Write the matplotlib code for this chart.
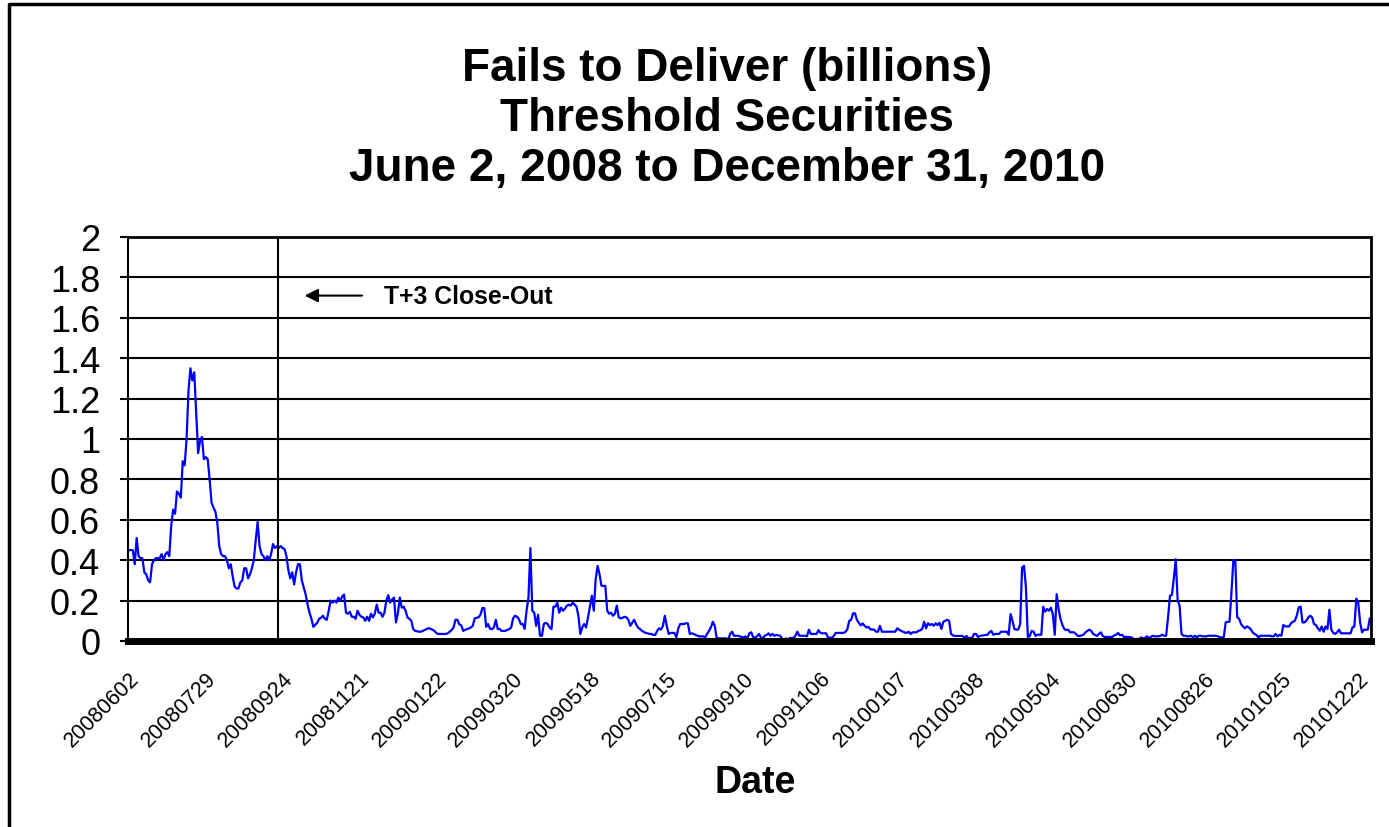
import matplotlib
matplotlib.use("Agg")
import matplotlib.pyplot as plt
from matplotlib.lines import Line2D

plt.rcParams['font.family'] = ['Liberation Sans', 'DejaVu Sans']

# Daily fails to deliver in threshold securities (billions), one value per
# trading day from 2008-06-02 to 2010-12-31
fails = [
    0.45, 0.45, 0.45, 0.38, 0.51, 0.42, 0.41, 0.41, 0.34, 0.33,
    0.30, 0.29, 0.38, 0.40, 0.41, 0.41, 0.41, 0.43, 0.40, 0.43,
    0.44, 0.42, 0.57, 0.65, 0.63, 0.74, 0.73, 0.71, 0.89, 0.87,
    1.00, 1.24, 1.35, 1.29, 1.33, 1.13, 0.93, 0.99, 1.01, 0.90,
    0.91, 0.90, 0.80, 0.685, 0.66, 0.64, 0.586, 0.47, 0.43, 0.42,
    0.42, 0.40, 0.36, 0.38, 0.32, 0.27, 0.26, 0.26, 0.29, 0.30,
    0.36, 0.36, 0.31, 0.33, 0.36, 0.40, 0.50, 0.59, 0.47, 0.43,
    0.42, 0.40, 0.42, 0.40, 0.43, 0.48, 0.46, 0.47, 0.46, 0.47,
    0.46, 0.455, 0.42, 0.35, 0.31, 0.34, 0.28, 0.34, 0.38, 0.38,
    0.30, 0.265, 0.23, 0.18, 0.14, 0.11, 0.07, 0.08, 0.09, 0.11,
    0.115, 0.125, 0.11, 0.105, 0.15, 0.20, 0.19, 0.20, 0.19, 0.215,
    0.20, 0.22, 0.23, 0.14, 0.135, 0.145, 0.12, 0.12, 0.11, 0.15,
    0.13, 0.12, 0.117, 0.10, 0.12, 0.10, 0.135, 0.117, 0.135, 0.18,
    0.14, 0.14, 0.12, 0.14, 0.20, 0.227, 0.19, 0.205, 0.215, 0.092,
    0.135, 0.215, 0.165, 0.17, 0.15, 0.117, 0.11, 0.10, 0.059, 0.05,
    0.048, 0.046, 0.046, 0.05, 0.055, 0.059, 0.064, 0.06, 0.056, 0.05,
    0.04, 0.035, 0.035, 0.035, 0.035, 0.035, 0.038, 0.046, 0.054, 0.067,
    0.105, 0.105, 0.082, 0.078, 0.05, 0.055, 0.059, 0.062, 0.067, 0.075,
    0.112, 0.115, 0.117, 0.13, 0.163, 0.163, 0.07, 0.084, 0.06, 0.059,
    0.067, 0.105, 0.059, 0.06, 0.05, 0.05, 0.05, 0.055, 0.059, 0.067,
    0.112, 0.125, 0.12, 0.109, 0.084, 0.084, 0.06, 0.15, 0.215, 0.46,
    0.15, 0.14, 0.075, 0.13, 0.026, 0.025, 0.084, 0.09, 0.084, 0.067,
    0.059, 0.17, 0.17, 0.19, 0.14, 0.165, 0.15, 0.16, 0.175, 0.18,
    0.175, 0.19, 0.18, 0.17, 0.125, 0.035, 0.067, 0.084, 0.067, 0.117,
    0.17, 0.224, 0.15, 0.306, 0.372, 0.33, 0.273, 0.273, 0.273, 0.15,
    0.135, 0.14, 0.125, 0.135, 0.175, 0.117, 0.112, 0.115, 0.12, 0.117,
    0.105, 0.075, 0.09, 0.105, 0.084, 0.067, 0.06, 0.051, 0.045, 0.04,
    0.038, 0.035, 0.035, 0.03, 0.03, 0.05, 0.063, 0.056, 0.075, 0.125,
    0.075, 0.035, 0.04, 0.04, 0.04, 0.018, 0.063, 0.084, 0.084, 0.084,
    0.088, 0.087, 0.035, 0.038, 0.035, 0.03, 0.026, 0.023, 0.023, 0.023,
    0.018, 0.035, 0.05, 0.068, 0.095, 0.075, 0.013, 0.013, 0.013, 0.013,
    0.013, 0.013, 0.005, 0.035, 0.046, 0.026, 0.026, 0.026, 0.023, 0.02,
    0.018, 0.023, 0.013, 0.038, 0.043, 0.018, 0.018, 0.023, 0.035, 0.018,
    0.013, 0.026, 0.03, 0.038, 0.026, 0.035, 0.026, 0.03, 0.028, 0.026,
    0.013, 0.007, 0.013, 0.005, 0.015, 0.015, 0.015, 0.026, 0.046, 0.026,
    0.026, 0.026, 0.026, 0.023, 0.056, 0.035, 0.035, 0.035, 0.035, 0.054,
    0.04, 0.038, 0.038, 0.038, 0.016, 0.016, 0.016, 0.026, 0.04, 0.04,
    0.04, 0.04, 0.04, 0.045, 0.058, 0.10, 0.105, 0.137, 0.137, 0.105,
    0.09, 0.077, 0.087, 0.075, 0.067, 0.07, 0.058, 0.057, 0.056, 0.046,
    0.046, 0.075, 0.046, 0.046, 0.046, 0.046, 0.046, 0.046, 0.046, 0.046,
    0.063, 0.056, 0.05, 0.046, 0.042, 0.04, 0.046, 0.035, 0.043, 0.043,
    0.043, 0.05, 0.053, 0.06, 0.095, 0.063, 0.088, 0.079, 0.084, 0.075,
    0.088, 0.079, 0.09, 0.06, 0.095, 0.10, 0.105, 0.10, 0.035, 0.028,
    0.025, 0.025, 0.025, 0.025, 0.025, 0.015, 0.025, 0.015, 0.015, 0.015,
    0.035, 0.035, 0.02, 0.025, 0.027, 0.028, 0.03, 0.031, 0.043, 0.05,
    0.031, 0.035, 0.035, 0.035, 0.046, 0.046, 0.046, 0.046, 0.031, 0.133,
    0.10, 0.059, 0.056, 0.057, 0.084, 0.364, 0.372, 0.265, 0.02, 0.025,
    0.05, 0.046, 0.025, 0.031, 0.031, 0.031, 0.17, 0.145, 0.158, 0.15,
    0.165, 0.133, 0.031, 0.232, 0.158, 0.109, 0.079, 0.059, 0.054, 0.056,
    0.043, 0.043, 0.043, 0.035, 0.025, 0.025, 0.028, 0.031, 0.043, 0.05,
    0.056, 0.05, 0.035, 0.03, 0.025, 0.035, 0.043, 0.025, 0.02, 0.02,
    0.02, 0.02, 0.02, 0.028, 0.031, 0.04, 0.028, 0.031, 0.02, 0.02,
    0.02, 0.02, 0.018, 0.01, 0.01, 0.01, 0.01, 0.018, 0.013, 0.015,
    0.023, 0.016, 0.02, 0.026, 0.023, 0.023, 0.023, 0.026, 0.031, 0.026,
    0.026, 0.117, 0.224, 0.228, 0.31, 0.405, 0.20, 0.175, 0.035, 0.026,
    0.026, 0.023, 0.023, 0.026, 0.018, 0.026, 0.018, 0.026, 0.026, 0.023,
    0.023, 0.023, 0.026, 0.026, 0.026, 0.026, 0.026, 0.023, 0.018, 0.018,
    0.018, 0.092, 0.095, 0.095, 0.24, 0.40, 0.40, 0.117, 0.11, 0.084,
    0.072, 0.063, 0.072, 0.067, 0.059, 0.043, 0.035, 0.03, 0.018, 0.026,
    0.026, 0.026, 0.026, 0.026, 0.026, 0.023, 0.023, 0.035, 0.023, 0.03,
    0.026, 0.079, 0.072, 0.072, 0.072, 0.088, 0.095, 0.10, 0.125, 0.166,
    0.17, 0.092, 0.092, 0.10, 0.117, 0.125, 0.117, 0.084, 0.079, 0.063,
    0.051, 0.072, 0.046, 0.072, 0.059, 0.155, 0.056, 0.04, 0.035, 0.043,
    0.056, 0.038, 0.038, 0.038, 0.038, 0.038, 0.038, 0.067, 0.072, 0.21,
    0.19, 0.092, 0.043, 0.056, 0.056, 0.056, 0.11,
]

# every 40th trading day gets a label
date_labels = [
    '20080602', '20080729', '20080924', '20081121', '20090122', '20090320',
    '20090518', '20090715', '20090910', '20091106', '20100107', '20100308',
    '20100504', '20100630', '20100826', '20101025', '20101222',
]
label_step = 40

y_ticks = [0, 0.2, 0.4, 0.6, 0.8, 1.0, 1.2, 1.4, 1.6, 1.8, 2.0]
y_labels = ['0', '0.2', '0.4', '0.6', '0.8', '1', '1.2', '1.4', '1.6', '1.8', '2']

closeout_day = 77.8   # T+3 close-out rule takes effect

fig = plt.figure(figsize=(13.89, 8.28), dpi=100)
ax = fig.add_axes([128 / 1389, 186 / 828, 1242.7 / 1389, 404 / 828])

days = range(len(fails))
ax.plot(days, fails, color='#0000FF', lw=1.6, zorder=2)

ax.set_xlim(-0.5, len(fails) - 0.5)
ax.set_ylim(0, 2)

ax.set_yticks(y_ticks)
ax.set_yticklabels(y_labels, fontsize=26)
ax.tick_params(axis='y', length=6, width=1.5, pad=14)

ax.set_xticks(range(0, len(fails), label_step))
ax.set_xticklabels(date_labels, rotation=45, ha='right', va='top',
                   rotation_mode='anchor', fontsize=15.5)
ax.tick_params(axis='x', length=0, pad=19)

ax.yaxis.grid(True, color='black', lw=1.5)
ax.set_axisbelow(True)

ax.spines['left'].set_linewidth(1.5)
ax.spines['right'].set_linewidth(2)
ax.spines['top'].set_linewidth(2)
ax.spines['bottom'].set_linewidth(5)
ax.spines['bottom'].set_zorder(3)

ax.axvline(closeout_day, color='black', lw=1.5, zorder=2.5)
ax.annotate('', xy=(90.0, 1.71), xytext=(122.8, 1.71),
            arrowprops=dict(arrowstyle='-|>', color='black', lw=1.5,
                            mutation_scale=20))
ax.text(133, 1.71, 'T+3 Close-Out', fontsize=17.8, fontweight='bold',
        ha='left', va='center')

fig.text(727 / 1389, 1 - 119 / 828,
         'Fails to Deliver (billions)\nThreshold Securities\n'
         'June 2, 2008 to December 31, 2010',
         ha='center', va='center', fontsize=33, fontweight='bold',
         linespacing=1.17)
fig.text(755 / 1389, 1 - 783 / 828, 'Date', ha='center', va='center',
         fontsize=27, fontweight='bold')

# chart area frame
fig.add_artist(Line2D([9 / 1389, 9 / 1389, 1.0], [0.0, 1 - 5 / 828, 1 - 5 / 828],
                      transform=fig.transFigure, color='black', lw=2.5))

fig.savefig('out.png', dpi=100)
plt.close(fig)
